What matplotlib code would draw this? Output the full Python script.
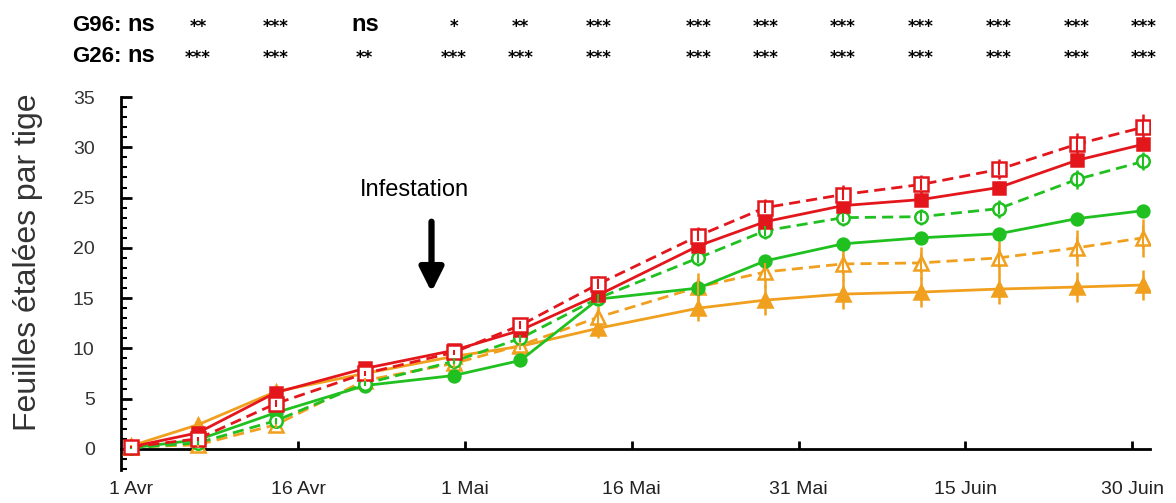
import matplotlib.pyplot as plt
from matplotlib.ticker import MultipleLocator
import matplotlib.transforms as mtransforms

plt.rcParams['font.family'] = ['Liberation Sans', 'DejaVu Sans']

# jours depuis le 1 avril
jours = [0, 6, 13, 21, 29, 35, 42, 51, 57, 64, 71, 78, 85, 91]

rouge_plein = [0.2, 1.6, 5.6, 8.0, 9.8, 11.8, 15.3, 20.2, 22.6, 24.2, 24.8, 26.0, 28.7, 30.3]
rouge_vide = [0.2, 1.0, 4.5, 7.5, 9.6, 12.3, 16.4, 21.2, 24.0, 25.3, 26.3, 27.8, 30.3, 32.0]
vert_plein = [0.1, 0.9, 3.6, 6.3, 7.3, 8.8, 14.9, 16.0, 18.7, 20.4, 21.0, 21.4, 22.9, 23.7]
vert_vide = [0.1, 0.6, 2.8, 6.5, 8.7, 11.0, 15.0, 19.0, 21.7, 23.0, 23.1, 23.9, 26.8, 28.6]
orange_plein = [0.3, 2.4, 5.7, 7.5, 9.2, 10.2, 12.0, 14.0, 14.8, 15.4, 15.6, 15.9, 16.1, 16.3]
orange_vide = [0.2, 0.4, 2.4, 6.8, 8.5, 10.3, 13.1, 16.1, 17.6, 18.4, 18.5, 19.0, 20.0, 21.0]

err_rouge_plein = [0.2, 0.3, 0.4, 0.4, 0.4, 0.4, 0.5, 0.5, 0.5, 0.5, 0.5, 0.6, 0.6, 0.6]
err_rouge_vide = [0.2, 0.3, 0.6, 0.4, 0.4, 0.7, 0.8, 0.9, 0.9, 0.9, 0.9, 1.0, 1.1, 1.3]
err_vert_plein = [0.2, 0.3, 0.4, 0.3, 0.4, 0.4, 0.5, 0.5, 0.5, 0.5, 0.5, 0.5, 0.5, 0.6]
err_vert_vide = [0.2, 0.3, 0.5, 0.4, 0.5, 0.6, 0.7, 0.8, 0.8, 0.8, 0.8, 0.9, 0.9, 0.9]
err_orange_plein = [0.3, 0.4, 0.5, 0.5, 0.6, 0.7, 1.0, 1.3, 1.5, 1.5, 1.5, 1.5, 1.5, 1.5]
err_orange_vide = [0.3, 0.4, 0.6, 0.5, 0.7, 0.8, 1.1, 1.4, 1.5, 1.6, 1.6, 1.7, 1.8, 1.9]

pos_ticks = [0, 15, 30, 45, 60, 75, 90]
labels_ticks = ['1 Avr', '16 Avr', '1 Mai', '16 Mai', '31 Mai', '15 Juin', '30 Juin']

sig_g96 = ['ns', '**', '***', 'ns', '*', '**', '***', '***', '***', '***', '***', '***', '***', '***']
sig_g26 = ['ns', '***', '***', '**', '***', '***', '***', '***', '***', '***', '***', '***', '***', '***']

ROUGE = '#e3161c'
VERT = '#1fc01f'
ORANGE = '#f0a01e'

fig = plt.figure(figsize=(11.76, 5.03), dpi=100)
ax = fig.add_axes([0.103, 0.0656, 0.875, 0.7455])

def serie(y, err, couleur, marker, ls, plein, ms):
    fc = couleur if plein else 'white'
    ax.errorbar(jours, y, yerr=err, color=couleur, ls='none', elinewidth=1.8,
                capsize=0, zorder=2)
    l, = ax.plot(jours, y, color=couleur, lw=2.0, ls=ls, marker=marker, ms=ms,
                 mfc=fc, mec=couleur, mew=1.8, zorder=3)
    if ls == '--':
        l.set_dashes((4, 2.2))
    if not plein:
        # trait vertical visible dans le symbole ouvert
        ax.errorbar(jours, y, yerr=[e * 0.6 for e in err], color=couleur, ls='none',
                    elinewidth=1.5, capsize=0, zorder=4)

serie(orange_plein, err_orange_plein, ORANGE, '^', '-', True, 10.5)
serie(orange_vide, err_orange_vide, ORANGE, '^', '--', False, 10.5)
serie(vert_plein, err_vert_plein, VERT, 'o', '-', True, 8.5)
serie(vert_vide, err_vert_vide, VERT, 'o', '--', False, 9)
serie(rouge_plein, err_rouge_plein, ROUGE, 's', '-', True, 9)
serie(rouge_vide, err_rouge_vide, ROUGE, 's', '--', False, 10)

ax.set_xlim(-0.9, 91.6)
ax.set_ylim(-2.1, 35.2)

for s in ['top', 'right']:
    ax.spines[s].set_visible(False)
ax.spines['bottom'].set_position(('data', 0))
ax.spines['left'].set_bounds(-2.1, 35)
ax.spines['left'].set_linewidth(2)
ax.spines['bottom'].set_linewidth(2)

ax.set_xticks(pos_ticks)
ax.set_xticklabels(labels_ticks)
ax.tick_params(axis='x', direction='in', length=6, width=2, pad=23, labelsize=14,
               labelcolor='#222222')
ax.yaxis.set_major_locator(MultipleLocator(5))
ax.yaxis.set_minor_locator(MultipleLocator(1))
ax.tick_params(axis='y', which='major', direction='in', length=8, width=2, pad=19,
               labelsize=14, labelcolor='#333333')
ax.tick_params(axis='y', which='minor', direction='in', length=4, width=1.5)

ax.set_ylabel('Feuilles étalées par tige', fontsize=23, color='#333333')
ax.yaxis.set_label_coords(-0.076, 0.555)

ax.text(25.5, 25.8, 'Infestation', fontsize=17, ha='center', va='center')
ax.annotate('', xy=(27, 15.6), xytext=(27, 22.6),
            arrowprops=dict(arrowstyle='-|>', color='black', lw=4.5,
                            mutation_scale=36, shrinkA=0, shrinkB=0))

# significativité en haut
trans = mtransforms.blended_transform_factory(ax.transData, fig.transFigure)
for nom, sigs, yb in [('G96:', sig_g96, 0.939), ('G26:', sig_g26, 0.876)]:
    fig.text(0.061, yb, nom, fontsize=16, fontweight='bold', ha='left', va='baseline')
    for i, (x, s) in enumerate(zip(jours, sigs)):
        if s == 'ns':
            dx = 0.9 if i == 0 else 0
            ax.text(x + dx, yb, s, transform=trans, fontsize=17,
                    fontweight='bold', ha='center', va='baseline',
                    family=['Liberation Sans Narrow', 'Liberation Sans'])
        else:
            ax.text(x, yb + 0.008, s, transform=trans, fontsize=12, fontweight='bold',
                    ha='center', va='center', family=['DejaVu Sans'])

fig.savefig('out.png', dpi=100)
